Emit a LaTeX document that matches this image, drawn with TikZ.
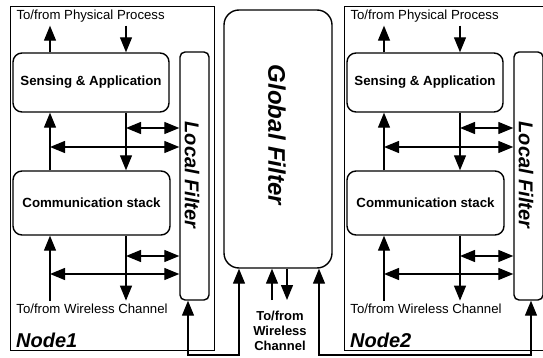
\documentclass[tikz,border=0pt]{standalone}
\usepackage{fontspec}
\setmainfont{Liberation Sans}
\usetikzlibrary{arrows.meta}

\tikzset{
  box/.style={draw, line width=1.4pt, inner sep=0pt},
  blk/.style={draw, line width=1.4pt, rounded corners=9pt, align=center,
    font=\bfseries\fontsize{13.3}{15}\selectfont},
  arr/.style={line width=1.3pt, -{Triangle[length=15pt,width=12pt]}},
  darr/.style={line width=1.3pt, {Triangle[length=15pt,width=12pt]}-{Triangle[length=15pt,width=12pt]}},
  txt/.style={font=\fontsize{13.2}{15}\selectfont},
}

\begin{document}
\begin{tikzpicture}[x=1pt,y=-1pt]
\clip (0,0) rectangle (543,358);

\foreach \i/\o in {1/0,2/334}{
% sensor node
\node[box, minimum width=204pt, minimum height=344pt, anchor=north west] (node\i) at (10+\o,6) {};
\node[txt, anchor=west] (pp\i) at (13+\o,16) {To/from Physical Process};
\node[blk, minimum width=156pt, minimum height=59pt] (sa\i) at (91+\o,82.5) {Sensing \& Application};
\node[blk, minimum width=157pt, minimum height=64pt] (cs\i) at (91.5+\o,203) {Communication stack};
\node[box, rounded corners=5pt, minimum width=29pt, minimum height=248pt] (lf\i) at (194.5+\o,176) {};
\node[rotate=-90, font=\bfseries\itshape\fontsize{20}{24}\selectfont] (lft\i) at (192+\o,175) {Local Filter};
\node[txt] (wc\i) at (92+\o,309) {To/from Wireless Channel};
\node[anchor=west, inner sep=0pt, font=\bfseries\itshape\fontsize{20}{24}\selectfont] (lbl\i) at (16+\o,340) {Node\i};

\coordinate (l\i) at (50+\o,0);
\coordinate (r\i) at (126+\o,0);

\draw[arr] (l\i |- sa\i.north) -- (l\i |- pp\i.south);
\draw[arr] (r\i |- pp\i.south) -- (r\i |- sa\i.north);
\draw[arr] (l\i |- cs\i.north) -- (l\i |- sa\i.south);
\draw[arr] (r\i |- sa\i.south) -- (r\i |- cs\i.north);
\draw[darr] (r\i |- 0,128) -- (lf\i.west |- 0,128);
\draw[darr] (l\i |- 0,147) -- (lf\i.west |- 0,147);
\draw[arr] (l\i |- wc\i.north) -- (l\i |- cs\i.south);
\draw[arr] (r\i |- cs\i.south) -- (r\i |- wc\i.north);
\draw[darr] (r\i |- 0,256) -- (lf\i.west |- 0,256);
\draw[darr] (l\i |- 0,274) -- (lf\i.west |- 0,274);
}

% global filter
\node[box, rounded corners=15pt, minimum width=108pt, minimum height=258pt] (gf) at (278,139) {};
\node[rotate=-90, font=\bfseries\itshape\fontsize{24}{28}\selectfont] (gft) at (277,135) {Global Filter};
\node[align=center, font=\bfseries\fontsize{13}{15}\selectfont] (gwc) at (280,331) {To/from\\Wireless\\Channel};

\coordinate (gu) at (272,300);
\coordinate (gd) at (287,300);
\draw[arr] (gu) -- (gu |- gf.south);
\draw[arr] (gd |- gf.south) -- (gd);

% wires to the local filters
\coordinate (w1) at (188,355);
\coordinate (w2) at (239,355);
\coordinate (w3) at (319,355);
\coordinate (w4) at (531,355);
\draw[darr] (w1 |- lf1.south) -- (w1) -- (w2) -- (w2 |- gf.south);
\draw[darr] (w3 |- gf.south) -- (w3) -- (w4) -- (w4 |- lf2.south);

\end{tikzpicture}
\end{document}
